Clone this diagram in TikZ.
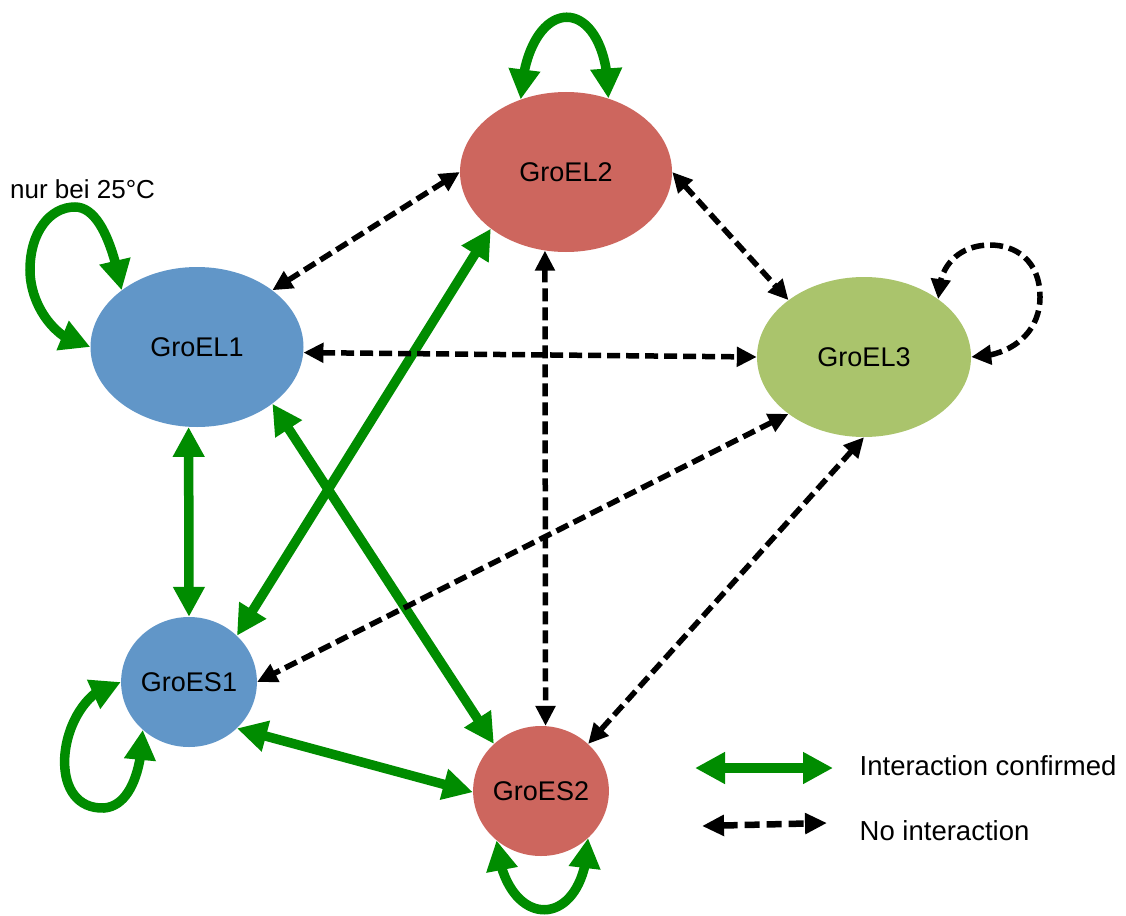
\documentclass[tikz,border=0pt]{standalone}
\usepackage{fontspec}
\setmainfont{Liberation Sans}
\usetikzlibrary{arrows.meta,bending,shapes.geometric}
\definecolor{cblue}{RGB}{97,150,200}
\definecolor{cred}{RGB}{205,102,94}
\definecolor{cgreen}{RGB}{170,196,108}
\definecolor{egreen}{RGB}{0,140,0}
\tikzset{
  prot/.style={ellipse, inner sep=0pt, font=\fontsize{27}{32}\selectfont},
  elnode/.style={prot, minimum width=213pt, minimum height=160pt},
  esnode/.style={prot, minimum width=130pt, minimum height=130pt},
  gedge/.style={draw=egreen, line width=9.5pt, {Triangle[length=30pt,width=30pt]}-{Triangle[length=30pt,width=30pt]}},
  gloop/.style={draw=egreen, line width=9.5pt, {Triangle[length=30pt,width=30pt,flex]}-{Triangle[length=30pt,width=30pt,flex]}},
  bedge/.style={draw=black, line width=5.5pt, dash pattern=on 13pt off 6pt, {Triangle[length=20pt,width=19pt]}-{Triangle[length=20pt,width=19pt]}},
  bloop/.style={draw=black, line width=5.5pt, dash pattern=on 13pt off 6pt, {Triangle[length=20pt,width=19pt,flex]}-{Triangle[length=20pt,width=19pt,flex]}},
  legtext/.style={inner sep=0pt, anchor=base west, font=\fontsize{27.5}{33}\selectfont},
}
\begin{document}
\begin{tikzpicture}[x=1pt,y=-1pt]
\useasboundingbox (0,0) rectangle (1126,915);
% nodes
\node[elnode, fill=cblue] (GroEL1) at (197,347) {GroEL1};
\node[elnode, fill=cred, minimum width=212pt] (GroEL2) at (566,172) {GroEL2};
\node[elnode, fill=cgreen, minimum width=214pt] (GroEL3) at (864,357) {GroEL3};
\node[esnode, fill=cblue] (GroES1) at (189,682) {GroES1};
\node[esnode, fill=cred] (GroES2) at (541,791) {GroES2};
\node[inner sep=0pt, anchor=base west, font=\fontsize{26}{30}\selectfont] (note) at (10,198) {nur bei 25°C};
% green edges
\draw[gedge] (GroEL1.264) -- (GroES1.90);
\draw[gedge] (GroES1.44) -- (GroEL2.217);
\draw[gedge] (GroEL1.323) -- (GroES2.135);
\draw[gedge] (GroES1.316) -- (GroES2.181);
% green loops
\draw[gloop] (GroEL1.180) .. controls +(-35,-5) and (30,305) .. (30,270)
  .. controls (30,232) and (50,207) .. (75,207)
  .. controls (100,207) and (114,250) .. (GroEL1.143);
\draw[gloop] (GroEL2.122) .. controls +(6,-110) and +(0,-108) .. (GroEL2.60);
\draw[gloop] (GroES1.180) .. controls (60,690) and (40,810) .. (104,808)
  .. controls (130,806) and (142,770) .. (GroES1.226);
\draw[gloop] (GroES2.228) .. controls +(8,93) and +(-2,95) .. (GroES2.315);
% black dashed edges
\draw[bedge] (GroEL1.37) -- (GroEL2.180);
\draw[bedge] (GroEL1.357) -- (GroEL3.180);
\draw[bedge] (GroEL2.0) -- (GroEL3.143);
\draw[bedge] (GroEL2.255) -- (GroES2.86);
\draw[bedge] (GroEL3.217) -- (GroES1.0);
\draw[bedge] (GroEL3.270) -- (GroES2.45);
\draw[bloop] (GroEL3.0) .. controls (1008,357) and (1040,335) .. (1040,297)
  .. controls (1040,260) and (1015,245) .. (990,245)
  .. controls (960,245) and (938,265) .. (GroEL3.38);
% legend
\coordinate (lg1) at (695,768);
\coordinate (lg2) at (833,768);
\coordinate (lb1) at (702,826);
\coordinate (lb2) at (827,823);
\draw[draw=egreen, line width=10pt, {Triangle[length=30pt,width=30pt]}-{Triangle[length=30pt,width=30pt]}] (lg1) -- (lg2);
\draw[draw=black, line width=6.5pt, dash pattern=on 15pt off 7pt, {Triangle[length=22pt,width=20pt]}-{Triangle[length=22pt,width=20pt]}] (lb1) -- (lb2);
\node[legtext] (lt1) at (859.5,775) {Interaction confirmed};
\node[legtext] (lt2) at (859.5,840) {No interaction};
\end{tikzpicture}
\end{document}
